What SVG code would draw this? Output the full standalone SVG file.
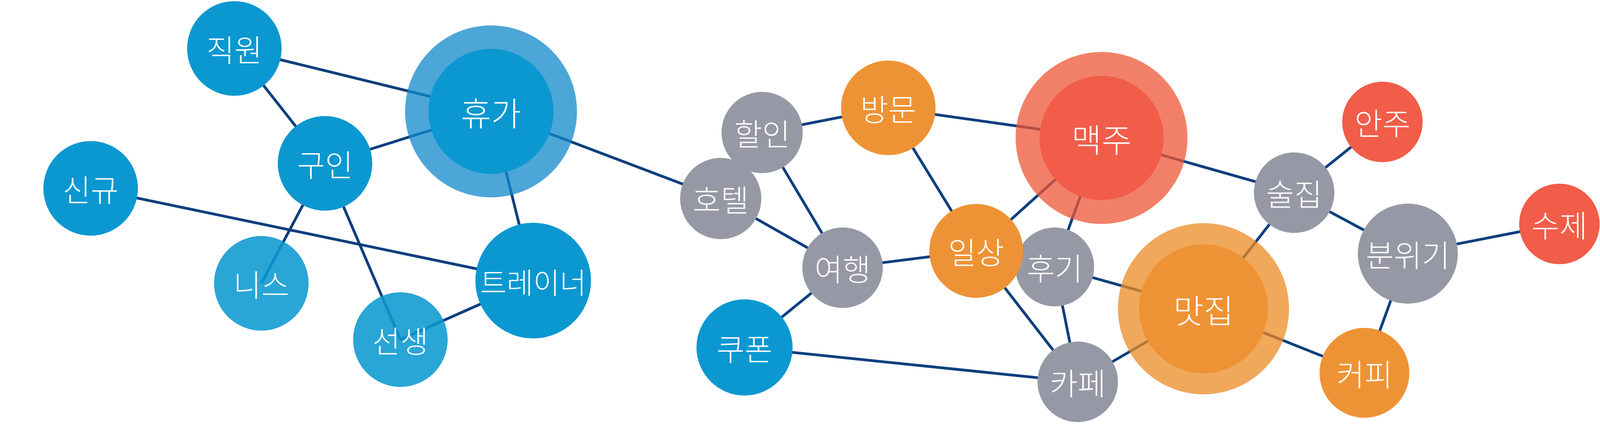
<svg xmlns="http://www.w3.org/2000/svg" width="4320" height="1131" viewBox="0 0 4320 1131">
<style>
.edge{stroke:#0d3f7e;stroke-width:7;fill:none}
.blue{fill:#0b98d0}
.blueR{fill:#1088cb;opacity:.75}
.grey{fill:#9699a5}
.orange{fill:#ee9335}
.orangeR{fill:#eb8b23;opacity:.75}
.red{fill:#f15d49}
.redR{fill:#ed5537;opacity:.75}
.soft{opacity:.88}
text{font-family:"Noto Sans CJK KR","Noto Sans",sans-serif;font-weight:300;fill:#fff;text-anchor:middle;dominant-baseline:central;font-size:78px}
text.big{font-size:84px}
text.narrow{font-size:74px}
</style>
<rect width="4320" height="1131" fill="#fff"/>
<g id="connectors">
<line class="edge" x1="600" y1="124" x2="1257" y2="285"/>
<line class="edge" x1="600" y1="124" x2="832" y2="418"/>
<line class="edge" x1="832" y1="418" x2="1257" y2="285"/>
<line class="edge" x1="1257" y1="285" x2="1365" y2="718"/>
<line class="edge" x1="1257" y1="285" x2="1845" y2="508"/>
<line class="edge" x1="232" y1="482" x2="1365" y2="718"/>
<line class="edge" x1="832" y1="418" x2="669" y2="725"/>
<line class="edge" x1="832" y1="418" x2="1025" y2="869"/>
<line class="edge" x1="1025" y1="869" x2="1365" y2="718"/>
<line class="edge" x1="1951" y1="339" x2="2274" y2="276"/>
<line class="edge" x1="1951" y1="339" x2="2157" y2="685"/>
<line class="edge" x1="1845" y1="508" x2="2157" y2="685"/>
<line class="edge" x1="2157" y1="685" x2="1906" y2="889"/>
<line class="edge" x1="2157" y1="685" x2="2499" y2="642"/>
<line class="edge" x1="2274" y1="276" x2="2820" y2="353"/>
<line class="edge" x1="2274" y1="276" x2="2499" y2="642"/>
<line class="edge" x1="2499" y1="642" x2="2820" y2="353"/>
<line class="edge" x1="2820" y1="353" x2="2700" y2="683"/>
<line class="edge" x1="2700" y1="683" x2="3081" y2="790"/>
<line class="edge" x1="2700" y1="683" x2="2759" y2="977"/>
<line class="edge" x1="2499" y1="642" x2="2759" y2="977"/>
<line class="edge" x1="1906" y1="889" x2="2759" y2="977"/>
<line class="edge" x1="2759" y1="977" x2="3081" y2="790"/>
<line class="edge" x1="2820" y1="353" x2="3313" y2="493"/>
<line class="edge" x1="3313" y1="493" x2="3539" y2="312"/>
<line class="edge" x1="3313" y1="493" x2="3081" y2="790"/>
<line class="edge" x1="3313" y1="493" x2="3604" y2="649"/>
<line class="edge" x1="3604" y1="649" x2="3992" y2="573"/>
<line class="edge" x1="3604" y1="649" x2="3493" y2="954"/>
<line class="edge" x1="3081" y1="790" x2="3493" y2="954"/>
</g>
<g id="node-jikwon"><circle class="blue" cx="600" cy="124" r="121"/><text x="600" y="124">직원</text></g>
<g id="node-guin"><circle class="blue" cx="832" cy="418" r="121"/><text x="832" y="418">구인</text></g>
<g id="node-singyu"><circle class="blue" cx="232" cy="482" r="121"/><text x="232" y="482">신규</text></g>
<g id="node-niseu"><circle class="blue soft" cx="669" cy="725" r="121"/><text x="669" y="725">니스</text></g>
<g id="node-seonsaeng"><circle class="blue soft" cx="1025" cy="869" r="121"/><text x="1025" y="869">선생</text></g>
<g id="node-trainer"><circle class="blue" cx="1365" cy="718" r="148"/><text class="narrow" x="1365" y="718">트레이너</text></g>
<g id="node-hyuga"><circle class="blueR" cx="1257" cy="285" r="220"/><circle class="blue" cx="1257" cy="285" r="160"/><text class="big" x="1257" y="285">휴가</text></g>
<g id="node-coupon"><circle class="blue" cx="1906" cy="889" r="123"/><text x="1906" y="889">쿠폰</text></g>
<g id="node-halin"><circle class="grey" cx="1951" cy="339" r="104"/><text x="1951" y="339">할인</text></g>
<g id="node-hotel"><circle class="grey" cx="1845" cy="508" r="104"/><text x="1845" y="508">호텔</text></g>
<g id="node-yeohaeng"><circle class="grey" cx="2157" cy="685" r="103"/><text x="2157" y="685">여행</text></g>
<g id="node-banmun"><circle class="orange" cx="2274" cy="276" r="121"/><text x="2274" y="276">방문</text></g>
<g id="node-hugi"><circle class="grey" cx="2700" cy="683" r="101"/><text x="2700" y="683">후기</text></g>
<g id="node-ilsang"><circle class="orange" cx="2499" cy="642" r="120"/><text x="2499" y="642">일상</text></g>
<g id="node-cafe"><circle class="grey" cx="2759" cy="977" r="103"/><text x="2759" y="977">카페</text></g>
<g id="node-maekju"><circle class="redR" cx="2820" cy="353" r="220"/><circle class="red" cx="2820" cy="353" r="159"/><text class="big" x="2820" y="353">맥주</text></g>
<g id="node-matjip"><circle class="orangeR" cx="3081" cy="790" r="219"/><circle class="orange" cx="3081" cy="790" r="165"/><text class="big" x="3081" y="790">맛집</text></g>
<g id="node-suljip"><circle class="grey" cx="3313" cy="493" r="103"/><text x="3313" y="493">술집</text></g>
<g id="node-anju"><circle class="red" cx="3539" cy="312" r="103"/><text x="3539" y="312">안주</text></g>
<g id="node-bunwigi"><circle class="grey" cx="3604" cy="649" r="128"/><text x="3604" y="649">분위기</text></g>
<g id="node-suje"><circle class="red" cx="3992" cy="573" r="103"/><text x="3992" y="573">수제</text></g>
<g id="node-coffee"><circle class="orange" cx="3493" cy="954" r="115"/><text x="3493" y="954">커피</text></g>
</svg>
